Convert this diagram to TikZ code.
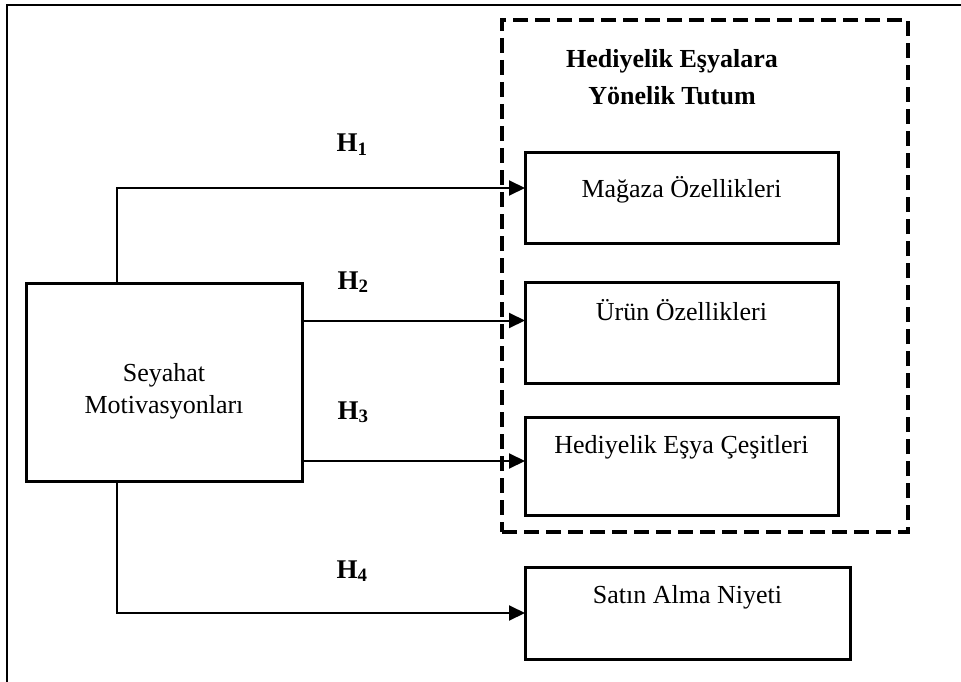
\documentclass[tikz,border=0pt]{standalone}
\usepackage{fontspec}
\setmainfont{Liberation Serif}
\usetikzlibrary{arrows.meta}
\begin{document}
\begin{tikzpicture}[x=1pt,y=-1pt,
  box/.style={draw,line width=3pt,rectangle,inner sep=0pt,outer sep=0pt},
  txt/.style={anchor=base,inner sep=0pt,font=\fontsize{26}{30}\selectfont},
  hlab/.style={anchor=base,inner sep=0pt,font=\fontsize{27}{30}\selectfont\bfseries},
  arr/.style={line width=2pt,-{Triangle[length=16pt,width=15pt]}},
  conn/.style={line width=2pt},
  grpbox/.style={draw,line width=4pt,dash pattern=on 15pt off 7pt,rectangle,inner sep=0pt,outer sep=0pt}]
\useasboundingbox (0,0) rectangle (961,682);
% outer frame (left and top edges visible)
\coordinate (fbl) at (7,683);
\coordinate (ftl) at (7,5);
\coordinate (ftr) at (962,5);
\draw[conn] (fbl) -- (ftl) -- (ftr);
% dashed group
\node[grpbox,minimum width=406pt,minimum height=512pt] (grp) at (705,276) {};
\node[txt,align=center,font=\fontsize{26}{37}\selectfont\bfseries] (title) at (672,105) {Hediyelik Eşyalara\\Yönelik Tutum};
% boxes
\node[box,minimum width=276pt,minimum height=198pt] (s) at (164,382) {};
\node[txt,align=center,font=\fontsize{26}{32}\selectfont] (st) at (164,413) {Seyahat\\Motivasyonları};
\node[box,minimum width=313pt,minimum height=90pt] (b1) at (681.5,198) {};
\node[txt] (t1) at (681.5,197) {Mağaza Özellikleri};
\node[box,minimum width=313pt,minimum height=101pt] (b2) at (681.5,332.5) {};
\node[txt] (t2) at (681.5,320) {Ürün Özellikleri};
\node[box,minimum width=313pt,minimum height=98pt] (b3) at (681.5,466) {};
\node[txt] (t3) at (681.5,453) {Hediyelik Eşya Çeşitleri};
\node[box,minimum width=325pt,minimum height=92pt] (b4) at (687.5,613) {};
\node[txt] (t4) at (687.5,603) {Satın Alma Niyeti};
% connectors
\draw[arr] ([xshift=91pt]s.north west) |- ([yshift=10pt]b1.west);
\draw[arr] ([yshift=12pt]b2.west -| s.east) -- ([yshift=12pt]b2.west);
\draw[arr] ([yshift=5pt]b3.west -| s.east) -- ([yshift=5pt]b3.west);
\draw[arr] ([xshift=91pt]s.south west) |- (b4.west);
% labels
\node[hlab] (h1) at (352,152) {H\textsubscript{1}};
\node[hlab] (h2) at (353,289) {H\textsubscript{2}};
\node[hlab] (h3) at (353,419) {H\textsubscript{3}};
\node[hlab] (h4) at (352,578) {H\textsubscript{4}};
\end{tikzpicture}
\end{document}
